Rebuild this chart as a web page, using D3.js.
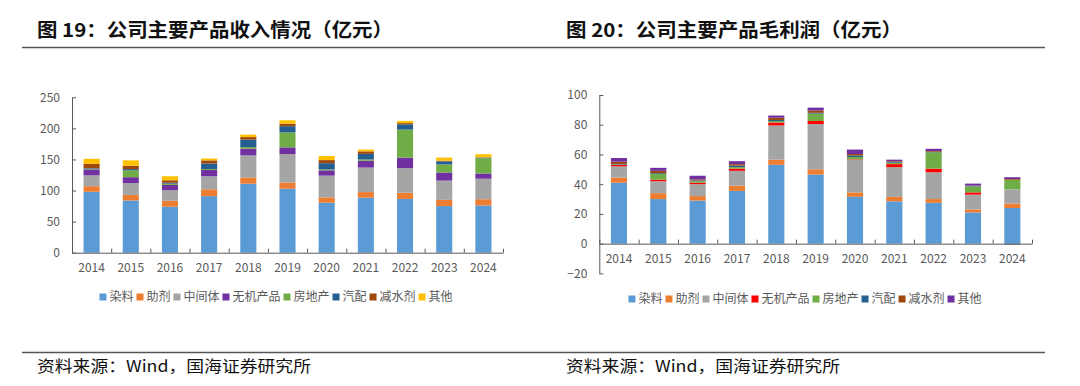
<html>
<head>
<meta charset="utf-8">
<script src="https://d3js.org/d3.v7.min.js"></script>
<style>
  body { margin: 0; background: #fff; }
  svg text { font-family: "Noto Sans CJK SC", "Noto Sans", sans-serif; }
</style>
</head>
<body>
<div id="chart"></div>
<script>
// categories
const years = ["2014", "2015", "2016", "2017", "2018", "2019", "2020", "2021", "2022", "2023", "2024"];
const seriesNames = ["染料", "助剂", "中间体", "无机产品", "房地产", "汽配", "减水剂", "其他"];

// 图19 收入（亿元）
const revDye = [98, 84, 74, 91, 111, 103, 80.5, 88.5, 86.5, 75, 76];
const revAux = [9, 9, 9.5, 11, 10, 10, 8.5, 9, 10, 10, 10];
const revInter = [17.5, 19, 17, 21, 35.5, 45.5, 35, 39.5, 39.5, 31, 33];
const revInorg = [9.5, 9.5, 8.5, 10, 11, 11, 8.5, 11, 17, 13, 8.5];
const revEstate = [1, 11, 2, 1.5, 2.5, 24, 1.5, 2, 45, 13, 24.5];
const revAuto = [1, 2, 1.5, 9, 12, 10, 10, 9, 8.5, 5, 1];
const revWater = [7, 5.5, 4, 5, 4, 4, 5, 4, 2, 1, 0.5];
const revOther = [8, 8.5, 6.5, 3, 4, 5.5, 6.5, 3, 3.5, 5, 5];

// 图20 毛利润（亿元）
const gpDye = [41, 30, 29, 35.5, 53, 46.5, 31.5, 28.5, 27.5, 21, 24];
const gpAux = [3.5, 4, 3, 3.5, 3.5, 3.5, 3, 3, 2.5, 2, 3];
const gpInter = [7.5, 8, 8, 10, 23, 30.5, 22, 20, 18, 10, 9.5];
const gpInorg = [1, 1, 1, 1.5, 2, 2, 0.3, 2, 2.5, 1.5, 0];
const gpEstate = [0.3, 4, 1, 1, 1, 5, 1.5, 1, 11, 4, 6.5];
const gpAuto = [0.3, 0.5, 0.5, 1, 0.7, 0.5, 1, 0.5, 0.3, 0.3, -0.5];
const gpWater = [1.5, 1.5, 0.7, 1, 1.5, 1.5, 1, 0.5, 0.5, 0.3, 0.5];
const gpOther = [2.5, 2, 2.5, 2, 1.5, 2, 3, 1, 1.5, 1.3, 1.2];

const revTicks = [0, 50, 100, 150, 200, 250];
const gpTicks = [-20, 0, 20, 40, 60, 80, 100];

const colorsRev = ["#5B9BD5", "#ED7D31", "#A5A5A5", "#7030A0", "#70AD47", "#255E91", "#9E480E", "#FFC000"];
const colorsGp = ["#5B9BD5", "#ED7D31", "#A5A5A5", "#FF0000", "#70AD47", "#255E91", "#9E480E", "#7030A0"];

const W = 1080, H = 386;
const svg = d3.select("#chart").append("svg")
    .attr("width", W)
    .attr("height", H);

function buildRows(cols) {
    return years.map((y, i) => {
        const row = { year: y };
        seriesNames.forEach((s, k) => row[s] = cols[k][i]);
        return row;
    });
}

function drawChart(opt) {
    const g = svg.append("g");
    const rows = buildRows(opt.cols);

    const x = d3.scaleBand()
        .domain(years)
        .range([opt.left, opt.right])
        .paddingInner(0.59)
        .paddingOuter(0.295);

    const y = d3.scaleLinear()
        .domain([opt.ticks[0], opt.ticks[opt.ticks.length - 1]])
        .range([opt.bottom, opt.top]);

    const stack = d3.stack()
        .keys(seriesNames)
        .offset(d3.stackOffsetDiverging);
    const layers = stack(rows);

    g.selectAll(".layer")
        .data(layers)
        .enter()
        .append("g")
        .attr("fill", (d, i) => opt.colors[i])
        .selectAll("rect")
        .data(d => d)
        .enter()
        .append("rect")
        .attr("x", d => x(d.data.year))
        .attr("width", x.bandwidth())
        .attr("y", d => y(Math.max(d[0], d[1])))
        .attr("height", d => Math.abs(y(d[0]) - y(d[1])));

    // y axis
    g.append("g")
        .attr("transform", "translate(" + opt.left + ",0)")
        .call(d3.axisLeft(y).tickValues(opt.ticks).tickSizeInner(-4).tickSizeOuter(0).tickPadding(12))
        .call(a => a.selectAll("path, line").attr("stroke", "#595959"))
        .call(a => a.selectAll("text").attr("fill", "#595959").style("font-size", "12px"));

    // x axis (line + boundary ticks)
    const xb = d3.scaleLinear().domain([0, years.length]).range([opt.left, opt.right]);
    g.append("g")
        .attr("transform", "translate(0," + y(0) + ")")
        .call(d3.axisBottom(xb).ticks(years.length).tickSizeInner(-4).tickSizeOuter(0).tickFormat(""))
        .call(a => a.selectAll("path, line").attr("stroke", "#595959"));

    g.append("g")
        .attr("transform", "translate(0," + y(0) + ")")
        .call(d3.axisBottom(x).tickSize(0).tickPadding(11))
        .call(a => a.select(".domain").remove())
        .call(a => a.selectAll("text").attr("fill", "#595959").style("font-size", "12px"));

    // legend
    const leg = g.append("g").attr("transform", "translate(0," + opt.legendY + ")");
    let cx = 0;
    const items = [];
    seriesNames.forEach((s, i) => {
        const it = leg.append("g");
        it.append("rect").attr("x", 0).attr("y", -3.5).attr("width", 7).attr("height", 7).attr("fill", opt.colors[i]);
        const t = it.append("text").attr("x", 10).attr("dy", "0.35em")
            .attr("fill", "#595959").style("font-size", "12px").text(s);
        const w = 10 + t.node().getComputedTextLength();
        items.push({ it: it, x: cx });
        cx += w + 3;
    });
    const total = cx - 3;
    items.forEach(o => o.it.attr("transform", "translate(" + (opt.legendCx - total / 2 + o.x) + ",0)"));

    // title and source
    svg.append("text")
        .attr("x", opt.titleX).attr("y", 37)
        .attr("textLength", opt.titleLen).attr("lengthAdjust", "spacingAndGlyphs")
        .style("font-size", "19px").style("font-weight", "bold").attr("fill", "#111")
        .text(opt.title);
    svg.append("text")
        .attr("x", opt.titleX).attr("y", 372)
        .attr("textLength", 274).attr("lengthAdjust", "spacingAndGlyphs")
        .style("font-size", "16px").attr("fill", "#111")
        .text("资料来源：Wind，国海证券研究所");
}

drawChart({
    cols: [revDye, revAux, revInter, revInorg, revEstate, revAuto, revWater, revOther],
    colors: colorsRev,
    ticks: revTicks,
    left: 72, right: 503, top: 97.3, bottom: 252.7,
    legendY: 297, legendCx: 276,
    title: "图 19：公司主要产品收入情况（亿元）",
    titleX: 37, titleLen: 356
});

drawChart({
    cols: [gpDye, gpAux, gpInter, gpInorg, gpEstate, gpAuto, gpWater, gpOther],
    colors: colorsGp,
    ticks: gpTicks,
    left: 599.3, right: 1032, top: 95, bottom: 273.4,
    legendY: 299, legendCx: 805,
    title: "图 20：公司主要产品毛利润（亿元）",
    titleX: 566, titleLen: 336
});

// rules under titles and above sources
svg.append("line").attr("x1", 22).attr("x2", 1045).attr("y1", 47.5).attr("y2", 47.5)
    .attr("stroke", "#555").attr("stroke-width", 1.5);
svg.append("line").attr("x1", 22).attr("x2", 1045).attr("y1", 352.5).attr("y2", 352.5)
    .attr("stroke", "#555").attr("stroke-width", 1.5);
</script>
</body>
</html>
